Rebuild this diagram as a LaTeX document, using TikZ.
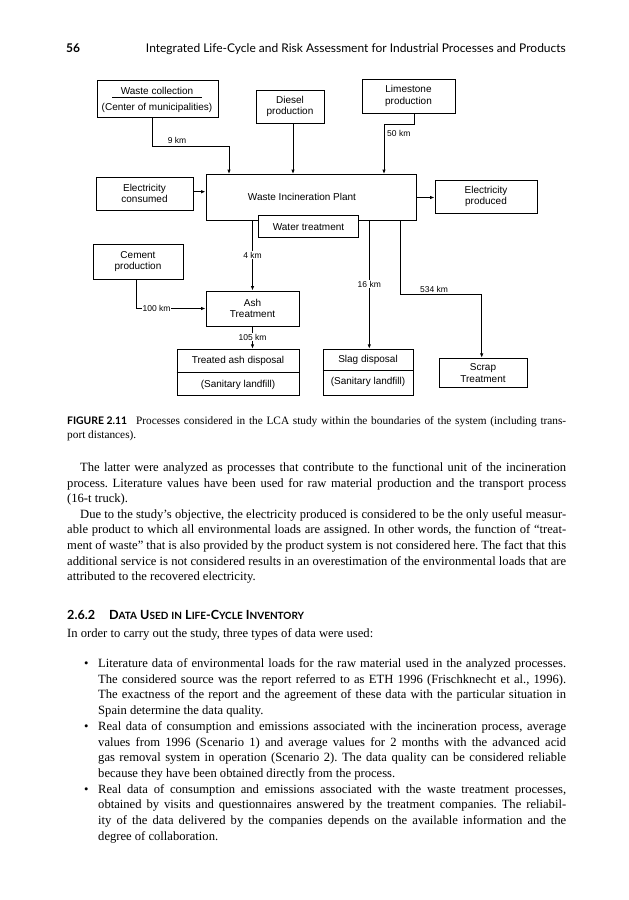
\documentclass[tikz,border=0pt]{standalone}
\usepackage{fontspec}
\setmainfont{Liberation Serif}
\newfontfamily\diagfont{Liberation Sans}
\newfontfamily\hdfont{Lato}
\usetikzlibrary{arrows.meta,calc}
\newcommand\myscs[1]{{\fontsize{10}{12}\selectfont #1}}
\frenchspacing
\begin{document}
\begin{tikzpicture}[x=1pt,y=-1pt,
  box/.style={draw, line width=0.9pt, inner sep=0pt, font=\diagfont\fontsize{10}{11.6}\selectfont, align=center},
  dtext/.style={inner sep=0pt, font=\diagfont\fontsize{10}{11.6}\selectfont},
  conn/.style={line width=0.9pt},
  arr/.style={conn, -{Latex[length=4.5pt,width=3.5pt]}},
  km/.style={font=\diagfont\fontsize{8.5}{10}\selectfont, inner sep=1pt},
  kmw/.style={km, fill=white},
  body/.style={anchor=base west, inner sep=0pt, font=\fontsize{12.6}{15.6}\selectfont},
  capt/.style={anchor=base west, inner sep=0pt, font=\fontsize{11.3}{14}\selectfont},
  hd/.style={anchor=base west, inner sep=0pt, font=\hdfont\fontsize{12}{14}\selectfont}
]
\useasboundingbox[fill=white] (0,0) rectangle (629,900);

% ---------- header ----------
\node[hd, font=\hdfont\bfseries\fontsize{12}{14}\selectfont] (pg) at (66,52) {56};
\node[hd, anchor=base east] (ttl) at (566,52) {Integrated Life-Cycle and Risk Assessment for Industrial Processes and Products};

% ---------- diagram boxes ----------
\node[box, minimum width=121pt, minimum height=37pt] (wc) at (157.5,98.5) {};
\node[dtext] (wct1) at (157,90.7) {Waste collection};
\node[dtext] (wct2) at (157,108) {(Center of municipalities)};
\draw[conn] (112,97.5) -- (202,97.5);

\node[box, minimum width=68pt, minimum height=33pt] (diesel) at (290,106.5) {Diesel\\production};
\node[box, minimum width=93pt, minimum height=34pt] (lime) at (408.5,96) {Limestone\\production};
\node[box, minimum width=97pt, minimum height=33pt] (ec) at (144.5,193.5) {Electricity\\consumed};
\node[box, minimum width=210pt, minimum height=46pt] (plant) at (311,197.5) {};
\node[dtext] (plantt) at (302,197) {Waste Incineration Plant};
\node[box, fill=white, minimum width=100.5pt, minimum height=22pt] (wt) at (308.5,226.7) {Water treatment};
\node[box, minimum width=102pt, minimum height=33pt] (ep) at (486,196.5) {Electricity\\produced};
\node[box, minimum width=90pt, minimum height=35pt] (cement) at (138,261.5) {Cement\\production};
\node[box, minimum width=93pt, minimum height=35pt] (ash) at (252.5,308.5) {Ash\\Treatment};

\node[box, minimum width=122pt, minimum height=46.5pt] (tad) at (238,372.5) {};
\draw[conn] (tad.west |- 0,372.3) -- (tad.east |- 0,372.3);
\node[dtext] (tadt1) at (238,360.7) {Treated ash disposal};
\node[dtext] (tadt2) at (238,385) {(Sanitary landfill)};

\node[box, minimum width=90pt, minimum height=46.5pt] (slag) at (368,372.5) {};
\draw[conn] (slag.west |- 0,370) -- (slag.east |- 0,370);
\node[dtext] (slagt1) at (368,360) {Slag disposal};
\node[dtext] (slagt2) at (368,381.7) {(Sanitary landfill)};

\node[box, minimum width=88pt, minimum height=29pt] (scrap) at (483,372.8) {Scrap\\Treatment};

% ---------- connectors ----------
\coordinate (wa) at ([xshift=-4.8pt]wc.south);
\coordinate (wb) at (229,146);
\draw[arr] (wa) |- (wb) -- (wb |- plant.north);
\node[km] (k9) at (177,140.5) {9 km};

\coordinate (da) at ([xshift=3pt]diesel.south);
\draw[arr] (da) -- (da |- plant.north);

\coordinate (la) at ([xshift=5.5pt]lime.south);
\coordinate (lb) at (414,124);
\coordinate (lc) at (384,124);
\draw[arr] (la) -- (lb) -- (lc) -- (lc |- plant.north);
\node[km, anchor=west] (k50) at (386,133.5) {50 km};

\coordinate (ea) at ([yshift=1.8pt]ec.east);
\draw[arr] (ea) -- (ea -| plant.west);
\draw[arr] (plant.east) -- (plant.east -| ep.west);

\draw[arr] (ash.north |- plant.south) -- (ash.north);
\node[kmw] (k4) at (252.5,255) {4 km};

\coordinate (ca) at ([xshift=-2pt]cement.south);
\coordinate (cb) at (ca |- ash.west);
\draw[arr] (ca) -- (cb) -- (ash.west);
\node[kmw] (k100) at (156.5,308.5) {100 km};

\draw[arr] (ash.south) -- (ash.south |- tad.north);
\node[kmw] (k105) at (252.5,337) {105 km};

\coordinate (sg) at ([xshift=1.3pt]slag.north);
\draw[arr] (sg |- plant.south) -- (sg);
\node[kmw] (k16) at (369.3,284) {16 km};

\coordinate (sa) at (400.7,294);
\coordinate (sb) at (481.7,294);
\draw[arr] (sa |- plant.south) -- (sa) -- (sb) -- (sb |- scrap.north);
\node[km] (k534) at (434,289.5) {534 km};

% ---------- caption ----------
\node[hd, font=\hdfont\bfseries\fontsize{10.4}{14}\selectfont] (fig) at (67,424) {FIGURE 2.11};
\node[capt] (cap1) at (136,424) {\makebox[430pt][s]{Processes considered in the LCA study within the boundaries of the system (including trans-}};
\node[capt] (cap2) at (67,438) {port distances).};

% ---------- body text ----------
\node[body] (p1) at (80,471.5) {\makebox[486pt][s]{The latter were analyzed as processes that contribute to the functional unit of the incineration}};
\node[body] (p2) at (67,487.1) {\makebox[499pt][s]{process. Literature values have been used for raw material production and the transport process}};
\node[body] (p3) at (67,502.7) {(16-t truck).};
\node[body] (p4) at (80,518.3) {\makebox[486pt][s]{Due to the study’s objective, the electricity produced is considered to be the only useful measur-}};
\node[body] (p5) at (67,533.9) {\makebox[499pt][s]{able product to which all environmental loads are assigned. In other words, the function of “treat-}};
\node[body] (p6) at (67,549.5) {\makebox[499pt][s]{ment of waste” that is also provided by the product system is not considered here. The fact that this}};
\node[body] (p7) at (67,565.1) {\makebox[499pt][s]{additional service is not considered results in an overestimation of the environmental loads that are}};
\node[body] (p8) at (67,580.7) {attributed to the recovered electricity.};

% ---------- section heading ----------
\node[hd, font=\hdfont\bfseries\fontsize{12.6}{15}\selectfont] (sec) at (67,619) {2.6.2\hspace{14pt}D\myscs{ATA} U\myscs{SED} \myscs{IN} L\myscs{IFE}-C\myscs{YCLE} I\myscs{NVENTORY}};
\node[body] (intro) at (67,637.5) {In order to carry out the study, three types of data were used:};

% ---------- bullets ----------
\node[body] (d1) at (84,667.5) {•};
\node[body] (b1) at (98,667.5) {\makebox[468pt][s]{Literature data of environmental loads for the raw material used in the analyzed processes.}};
\node[body] (b2) at (98,683.2) {\makebox[468pt][s]{The considered source was the report referred to as ETH 1996 (Frischknecht et al., 1996).}};
\node[body] (b3) at (98,698.9) {\makebox[468pt][s]{The exactness of the report and the agreement of these data with the particular situation in}};
\node[body] (b4) at (98,714.6) {Spain determine the data quality.};
\node[body] (d2) at (84,730.3) {•};
\node[body] (b5) at (98,730.3) {\makebox[468pt][s]{Real data of consumption and emissions associated with the incineration process, average}};
\node[body] (b6) at (98,746.0) {\makebox[468pt][s]{values from 1996 (Scenario 1) and average values for 2 months with the advanced acid}};
\node[body] (b7) at (98,761.7) {\makebox[468pt][s]{gas removal system in operation (Scenario 2). The data quality can be considered reliable}};
\node[body] (b8) at (98,777.4) {because they have been obtained directly from the process.};
\node[body] (d3) at (84,793.1) {•};
\node[body] (b9) at (98,793.1) {\makebox[468pt][s]{Real data of consumption and emissions associated with the waste treatment processes,}};
\node[body] (b10) at (98,808.8) {\makebox[468pt][s]{obtained by visits and questionnaires answered by the treatment companies. The reliabil-}};
\node[body] (b11) at (98,824.5) {\makebox[468pt][s]{ity of the data delivered by the companies depends on the available information and the}};
\node[body] (b12) at (98,840.2) {degree of collaboration.};
\end{tikzpicture}
\end{document}
